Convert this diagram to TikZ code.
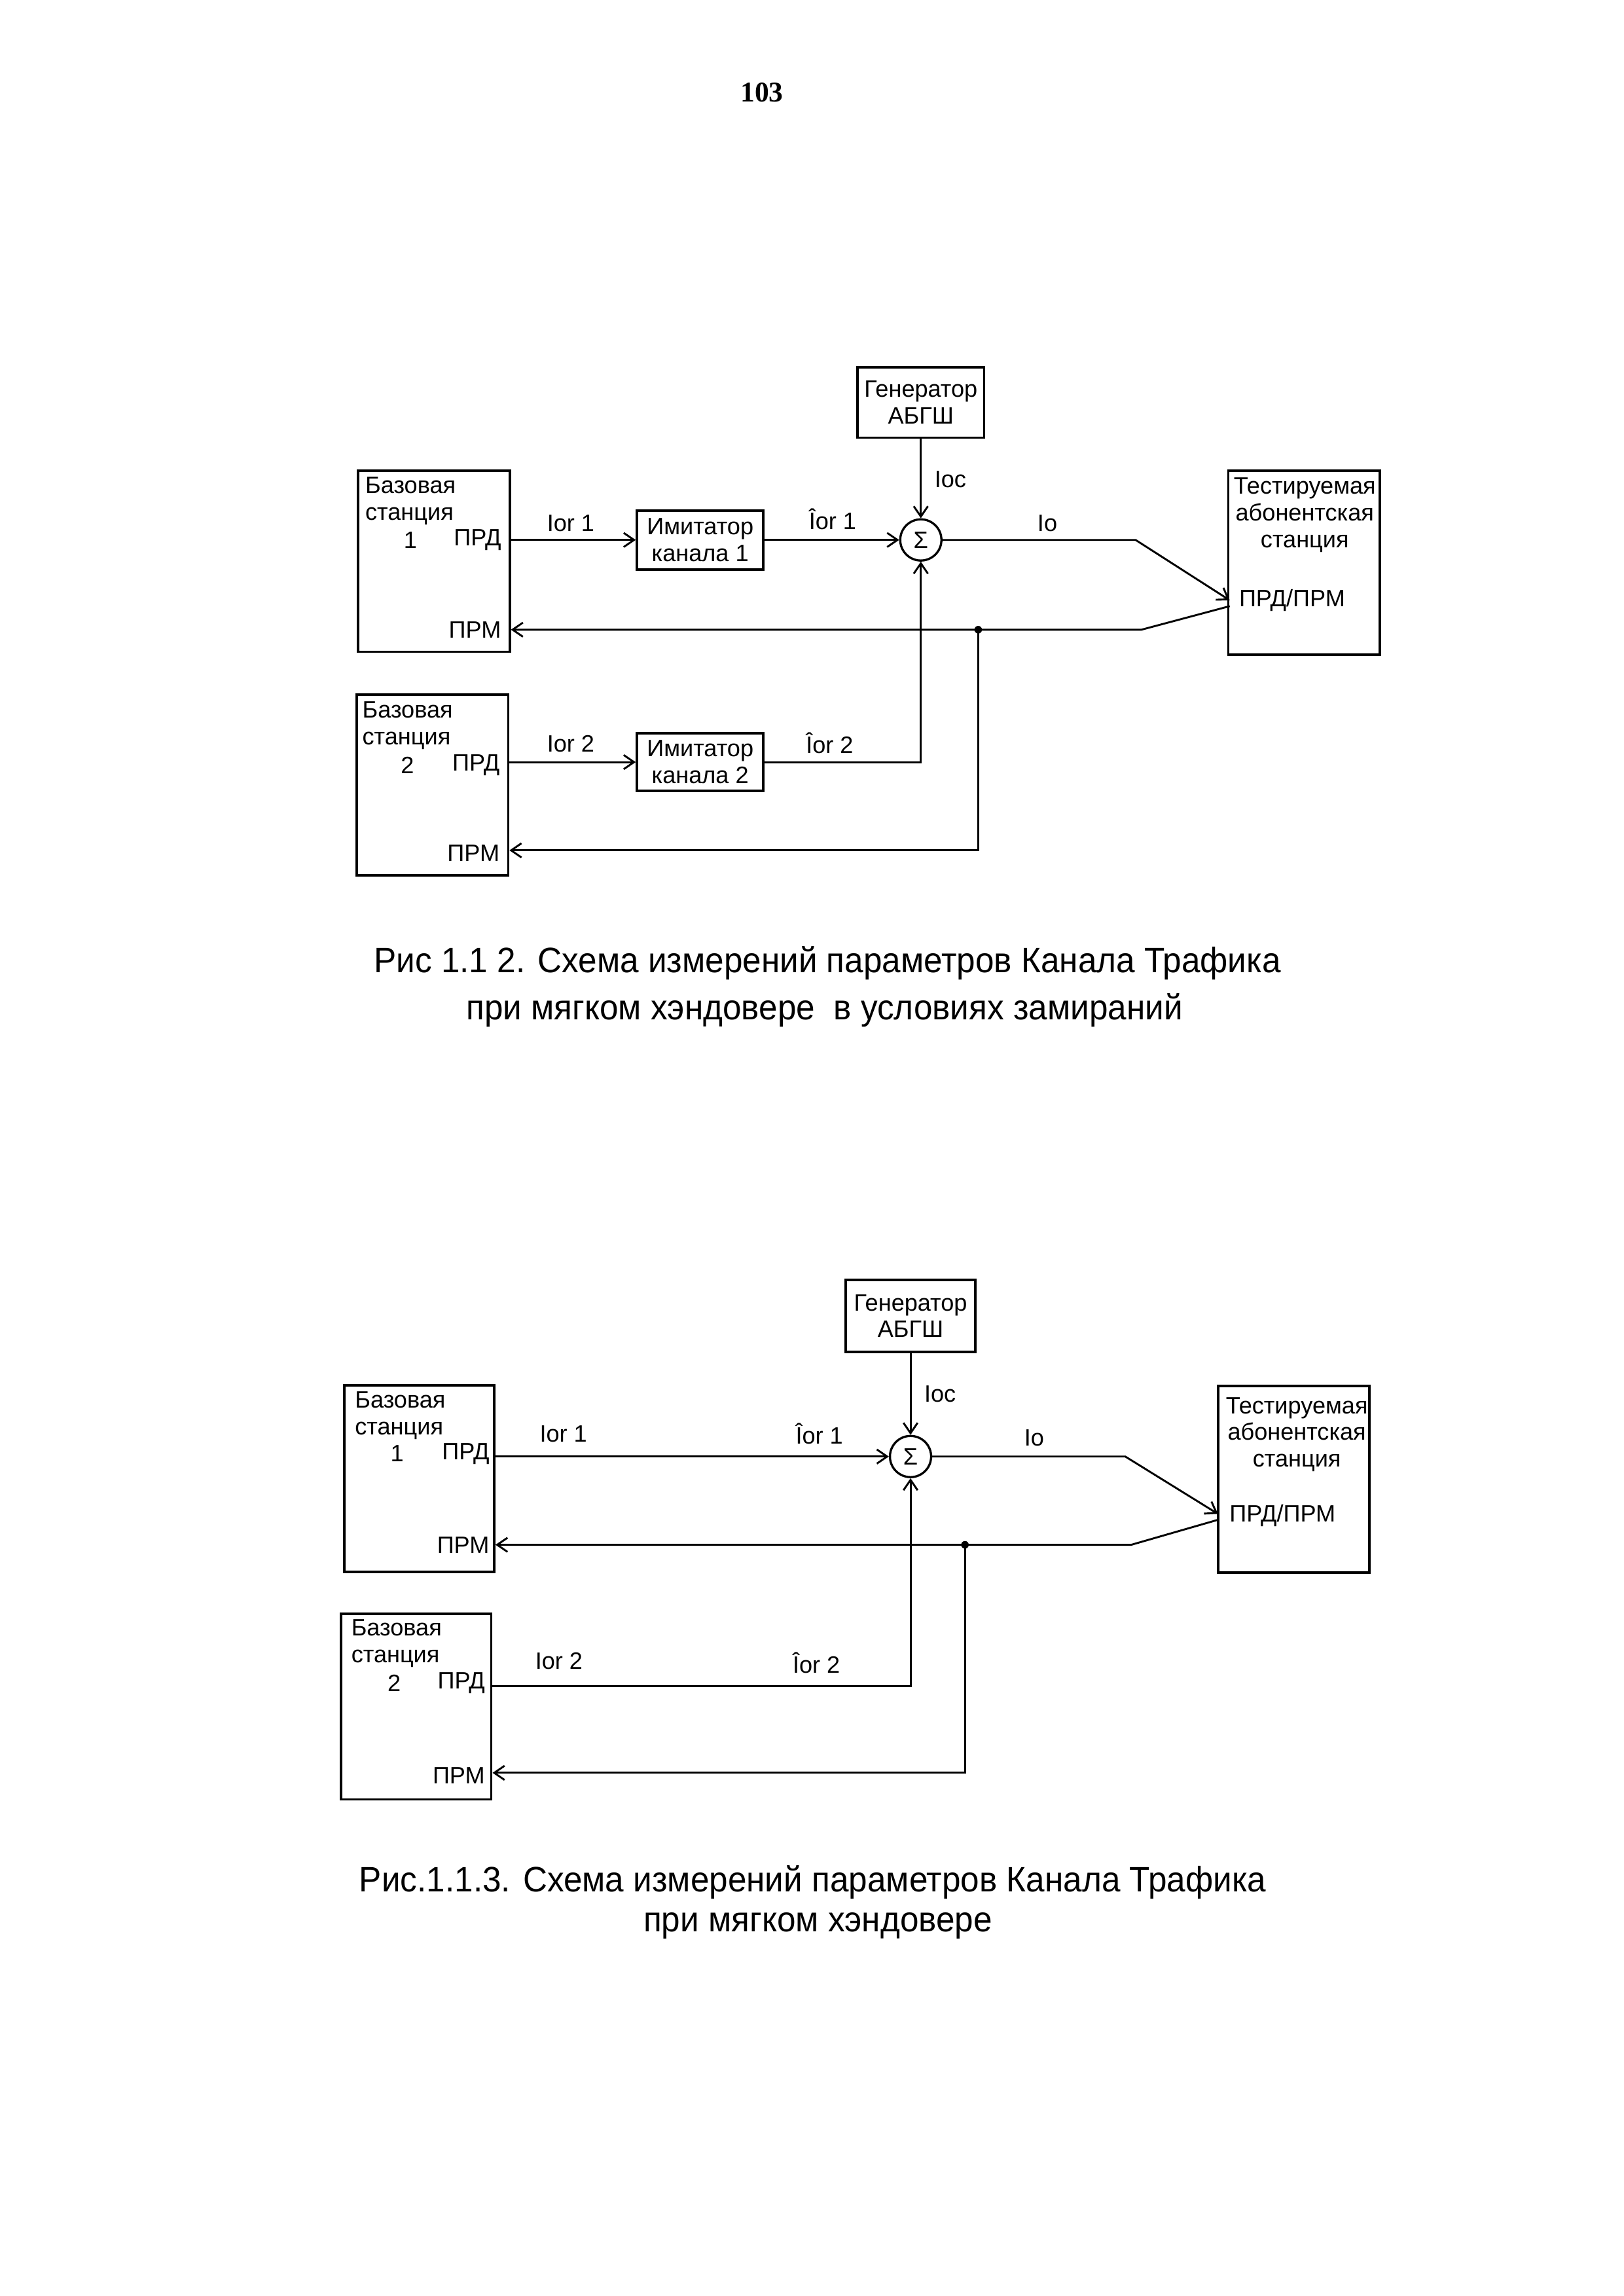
\documentclass[tikz,border=0pt]{standalone}
\usepackage{fontspec}
\setmainfont{Liberation Sans}
\newfontfamily\capfont[FakeStretch=0.95]{Liberation Sans}
\newfontfamily\pagefont{Liberation Serif}
\usetikzlibrary{arrows.meta}
\newcommand{\pxl}{0.19022mm}
\tikzset{
  >={Straight Barb[length=3.8pt,width=5.2pt]},
  box/.style={draw, line width=0.9pt, inner sep=0pt},
  txt/.style={font=\fontsize{8.7}{9.8}\selectfont, inner sep=0pt},
  sig/.style={txt, draw, circle, line width=0.8pt, minimum size=28*\pxl},
  wire/.style={line width=0.7pt},
  captxt/.style={font=\capfont\fontsize{13}{15}\selectfont, inner sep=0pt, anchor=base},
}
\begin{document}
\begin{tikzpicture}[x=0.19022mm,y=-0.19022mm]
\useasboundingbox (0,0) rectangle (1104,1560.6);
\node[font=\pagefont\bfseries\fontsize{10.5}{12}\selectfont, inner sep=0pt] (pgnum) at (518,63) {103};

\node[box, txt, align=center, minimum width=86*\pxl, minimum height=48*\pxl] (gena) at (626,273.5) {Генератор\\АБГШ};
\node[sig] (suma) at (626,367) {Σ};
\node[box, minimum width=103*\pxl, minimum height=123*\pxl] (bsa) at (295,381.5) {};
\node[txt, anchor=west, align=left] (bsa-name) at (248,340.5) {Базовая\\станция};
\node[txt] (bsa-num) at (279,367) {1};
\node[txt, anchor=east] (bsa-prd) at (341,367) {ПРД};
\node[txt, anchor=east] (bsa-prm) at (341,428) {ПРМ};
\node[box, minimum width=103*\pxl, minimum height=123*\pxl] (bsb) at (294,533.5) {};
\node[txt, anchor=west, align=left] (bsb-name) at (246,493) {Базовая\\станция};
\node[txt] (bsb-num) at (277,520) {2};
\node[txt, anchor=east] (bsb-prd) at (340,520) {ПРД};
\node[txt, anchor=east] (bsb-prm) at (340,580) {ПРМ};
\node[box, txt, align=center, minimum width=86*\pxl, minimum height=40*\pxl] (ima) at (476,367) {Имитатор\\канала 1};
\node[box, txt, align=center, minimum width=86*\pxl, minimum height=39*\pxl] (imb) at (476,518) {Имитатор\\канала 2};
\node[box, minimum width=103*\pxl, minimum height=125*\pxl] (tsta) at (886.5,382.5) {};
\node[txt, align=center] (tsta-name) at (887,350) {Тестируемая\\абонентская\\станция};
\node[txt, anchor=west] (tsta-port) at (842,408) {ПРД/ПРМ};
\node[txt, anchor=base west] (ioca) at (635,331.5) {Ioc};
\node[txt, anchor=base] (iora) at (388,361) {Ior 1};
\node[txt, anchor=base] (hiora) at (566,360) {Îor 1};
\node[txt, anchor=base] (ioa) at (712,361) {Io};
\node[txt, anchor=base] (iorb) at (388,511) {Ior 2};
\node[txt, anchor=base] (hiorb) at (564,512) {Îor 2};
\coordinate (ka) at (772,367);
\coordinate (tina) at (836,408);
\coordinate (touta) at (836,412);
\coordinate (kb) at (776,428);
\coordinate (ja) at (665,428);
\coordinate (jb) at (665,578);
\draw[wire,->] (bsa.east |- ima) -- (ima);
\draw[wire,->] (ima) -- (suma);
\draw[wire,->] (gena) -- (suma);
\draw[wire,->] (suma) -- (ka) -- (tina);
\draw[wire,->] (touta) -- (kb) -- (bsa.east |- kb);
\fill (ja) circle (1.4pt);
\draw[wire,->] (ja) -- (jb) -- (bsb.east |- jb);
\draw[wire,->] (bsb.east |- imb) -- (imb);
\draw[wire,->] (imb) -- (suma |- imb) -- (suma);
\node[captxt] (capa1) at (562.5,661) {Рис 1.1 2. Схема измерений параметров Канала Трафика};
\node[captxt] (capa2) at (560.5,693) {при мягком хэндовере \ в условиях замираний};

\node[box, txt, align=center, minimum width=88*\pxl, minimum height=49*\pxl] (genb) at (619,894.5) {Генератор\\АБГШ};
\node[sig] (sumb) at (619,990) {Σ};
\node[box, minimum width=102*\pxl, minimum height=127*\pxl] (bsc) at (285,1005) {};
\node[txt, anchor=west, align=left] (bsc-name) at (241,962) {Базовая\\станция};
\node[txt] (bsc-num) at (270,988) {1};
\node[txt, anchor=east] (bsc-prd) at (333,988) {ПРД};
\node[txt, anchor=east] (bsc-prm) at (333,1050) {ПРМ};
\node[box, minimum width=102*\pxl, minimum height=126*\pxl] (bsd) at (283,1160) {};
\node[txt, anchor=west, align=left] (bsd-name) at (238.5,1117) {Базовая\\станция};
\node[txt] (bsd-num) at (268,1144) {2};
\node[txt, anchor=east] (bsd-prd) at (330,1144) {ПРД};
\node[txt, anchor=east] (bsd-prm) at (330,1207) {ПРМ};
\node[box, minimum width=103*\pxl, minimum height=127*\pxl] (tstb) at (879.5,1005.5) {};
\node[txt, align=center] (tstb-name) at (881.6,975) {Тестируемая\\абонентская\\станция};
\node[txt, anchor=west] (tstb-port) at (835.5,1030) {ПРД/ПРМ};
\node[txt, anchor=base west] (iocb) at (628,953) {Ioc};
\node[txt, anchor=base] (iorc) at (383,980) {Ior 1};
\node[txt, anchor=base] (hiorc) at (557,981.5) {Îor 1};
\node[txt, anchor=base] (iob) at (703,982.6) {Io};
\node[txt, anchor=base] (iord) at (380,1134.7) {Ior 2};
\node[txt, anchor=base] (hiord) at (555,1137) {Îor 2};
\coordinate (kc) at (765,990);
\coordinate (tinb) at (828,1029);
\coordinate (toutb) at (828,1033);
\coordinate (kd) at (769,1050);
\coordinate (jc) at (656,1050);
\coordinate (jd) at (656,1205);
\coordinate (ke) at (619,1146);
\draw[wire,->] (bsc.east |- sumb) -- (sumb);
\draw[wire,->] (genb) -- (sumb);
\draw[wire,->] (sumb) -- (kc) -- (tinb);
\draw[wire,->] (toutb) -- (kd) -- (bsc.east |- kd);
\fill (jc) circle (1.4pt);
\draw[wire,->] (jc) -- (jd) -- (bsd.east |- jd);
\draw[wire,->] (bsd.east |- ke) -- (ke) -- (sumb);
\node[captxt] (capb1) at (552.5,1286) {Рис.1.1.3. Схема измерений параметров Канала Трафика};
\node[captxt] (capb2) at (556,1313) {при мягком хэндовере};
\end{tikzpicture}
\end{document}
